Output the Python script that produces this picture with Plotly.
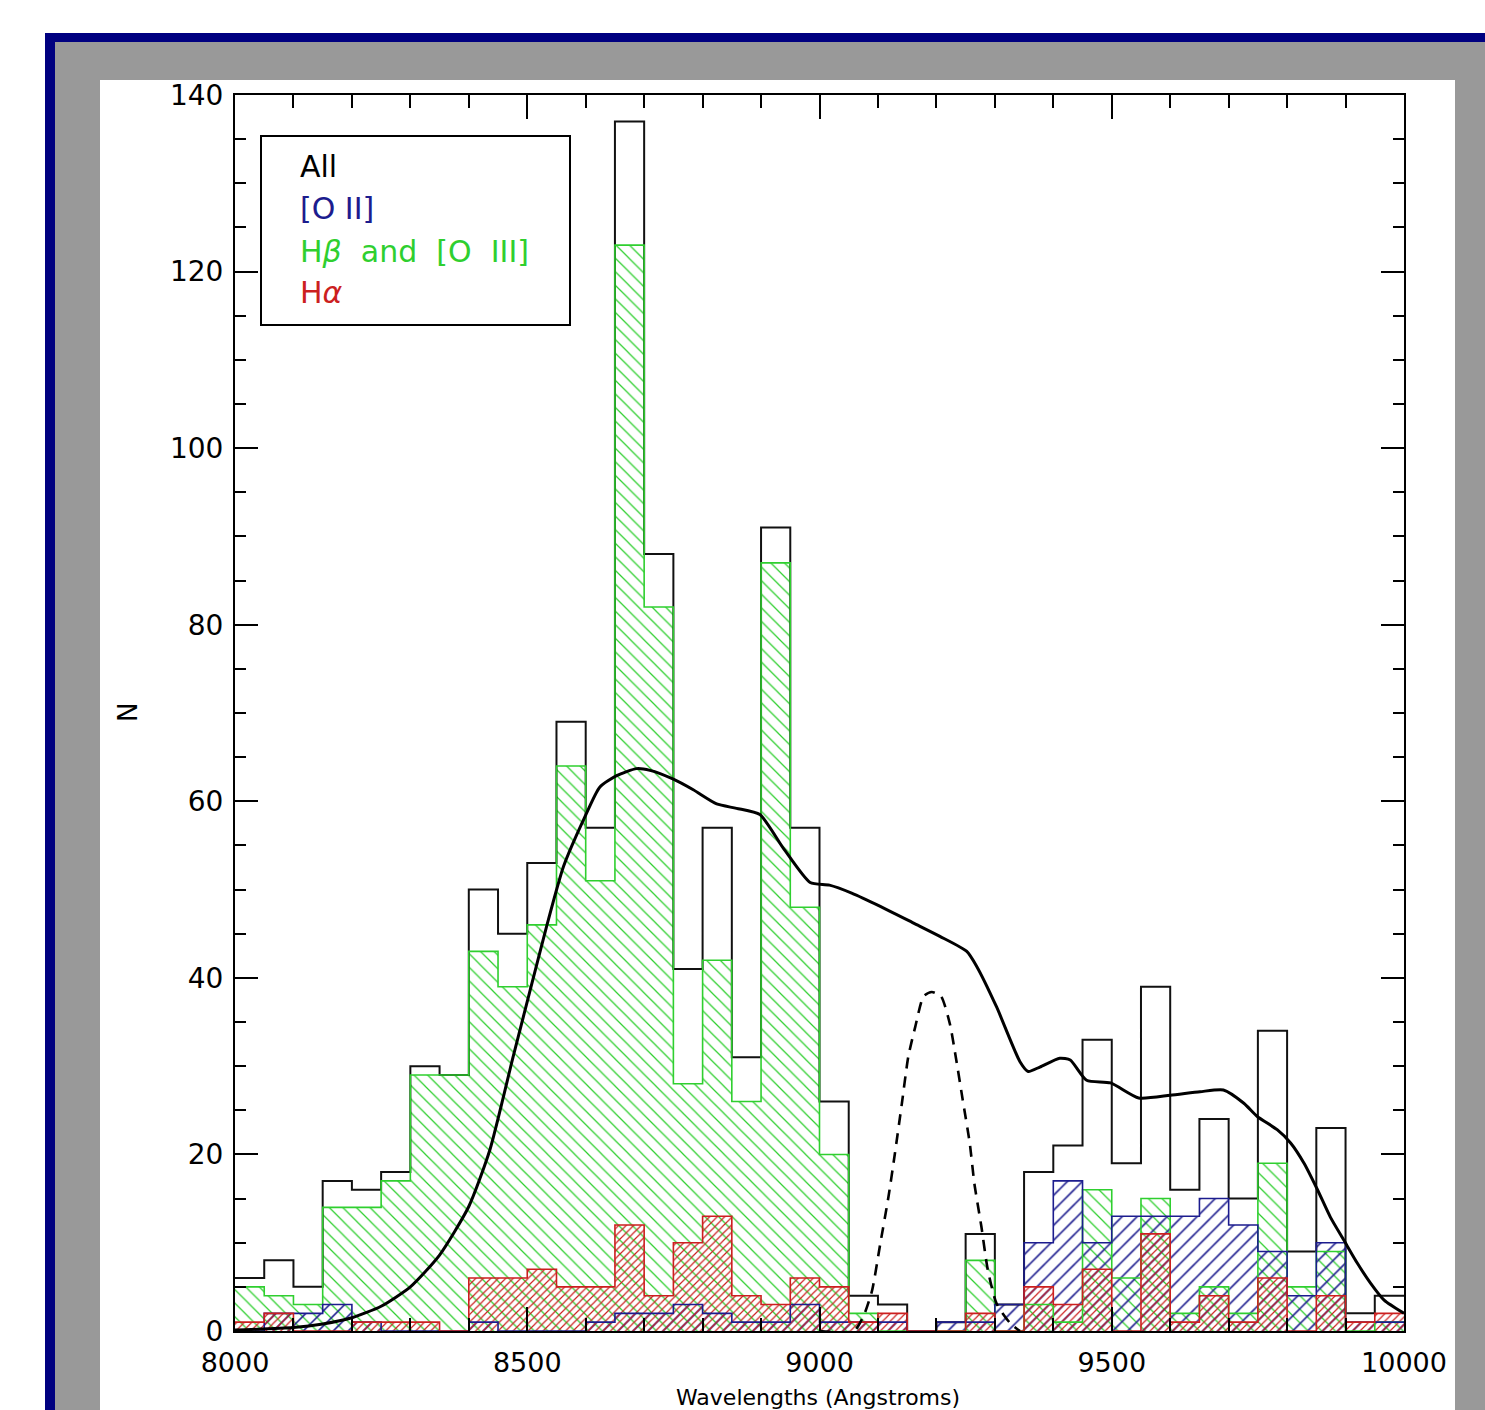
import numpy as np
import plotly.graph_objects as go

# ---- histogram data: 50 A bins from 8000 to 10000 A ----
bin_lo = 8000
bin_width = 50
n_all = [6, 8, 5, 17, 16, 18, 30, 29, 50, 45,
         53, 69, 57, 137, 88, 41, 57, 31, 91, 57,
         26, 4, 3, 0, 1, 11, 3, 18, 21, 33,
         19, 39, 16, 24, 15, 34, 9, 23, 2, 4]
n_hb_oiii = [5, 4, 3, 14, 14, 17, 29, 29, 43, 39,
             46, 64, 51, 123, 82, 28, 42, 26, 87, 48,
             20, 2, 0, 0, 0, 8, 0, 3, 1, 16,
             6, 15, 2, 5, 2, 19, 5, 9, 0, 1]
n_oii = [0, 2, 2, 3, 1, 0, 0, 0, 1, 0,
         0, 0, 1, 2, 2, 3, 2, 1, 1, 3,
         1, 1, 1, 0, 1, 1, 3, 10, 17, 10,
         13, 13, 13, 15, 12, 9, 4, 10, 1, 1]
n_ha = [1, 2, 0, 0, 1, 1, 1, 0, 6, 6,
        7, 5, 5, 12, 4, 10, 13, 4, 3, 6,
        5, 1, 2, 0, 0, 2, 0, 5, 3, 7,
        0, 11, 1, 4, 1, 6, 0, 4, 1, 2]

# ---- smooth curve (solid) ----
curve_wl = [8000, 8100, 8150, 8200, 8250, 8300, 8350, 8400, 8436, 8476,
            8505, 8533, 8562, 8597, 8624, 8653, 8687, 8710, 8750, 8784,
            8824, 8858, 8898, 8938, 8984, 9017, 9055, 9104, 9161, 9206,
            9252, 9269, 9303, 9343, 9357, 9377, 9411, 9429, 9457, 9498,
            9546, 9600, 9651, 9691, 9726, 9749, 9783, 9806, 9829, 9852,
            9874, 9897, 9920, 9943, 9966, 10000]
curve_n = [0.1, 0.4, 0.8, 1.5, 2.8, 5.0, 8.6, 14.1, 20.5, 31.1,
           38.6, 45.8, 52.6, 58.0, 61.6, 62.9, 63.7, 63.5, 62.5, 61.3,
           59.7, 59.2, 58.5, 54.7, 50.8, 50.5, 49.6, 48.1, 46.2, 44.7,
           43.0, 41.3, 36.7, 30.5, 29.4, 29.9, 30.9, 30.7, 28.4, 28.1,
           26.4, 26.7, 27.1, 27.3, 25.8, 24.3, 22.8, 21.3, 19.0, 16.0,
           12.9, 10.3, 7.7, 5.4, 3.5, 2.0]

# ---- filter profile (dashed) ----
filt_wl = [9000, 9059, 9076, 9090, 9104, 9118, 9129, 9141, 9152, 9164,
           9178, 9192, 9208, 9223, 9234, 9245, 9257, 9265, 9277, 9288,
           9303, 9326, 9343]
filt_n = [0, 0, 1.8, 4.6, 9.9, 15.2, 20.1, 25.8, 31.1, 34.5,
          37.9, 38.4, 37.9, 34.8, 30.7, 26.2, 21.3, 16.7, 11.8, 6.9,
          3.1, 0.9, 0]

legend_labels = ["All", "[O II]", "H<i>β</i>  and  [O  III]", "H<i>α</i>"]

x_ticks = [8000, 8500, 9000, 9500, 10000]
y_ticks = [0, 20, 40, 60, 80, 100, 120, 140]

BLACK = "#111111"
NAVY = "#1c1c8e"
GREEN = "#2fcf2f"
RED = "#cc1f1f"

nbins = len(n_all)
edges = bin_lo + bin_width * np.arange(nbins + 1)
centers = edges[:-1] + bin_width / 2

# figure geometry (pixels)
FW, FH = 1485, 1410
L, R, T, B = 235, 1404, 95, 1331
W, H = R - L, B - T


def px(xp):
    return (xp - L) / W


def py(yp):
    return (B - yp) / H


fig = go.Figure()


def hatch_bars(vals, color, shape, size, solidity):
    fig.add_trace(go.Bar(
        x=centers, y=vals, width=bin_width,
        marker=dict(color="rgba(0,0,0,0)",
                    line=dict(width=0),
                    pattern=dict(shape=shape, size=size, solidity=solidity,
                                 fgcolor=color, bgcolor="rgba(0,0,0,0)",
                                 fillmode="replace")),
        showlegend=False, hoverinfo="skip"))


def step_outline(vals, color, width):
    fig.add_trace(go.Scatter(
        x=edges, y=list(vals) + [vals[-1]], mode="lines",
        line=dict(color=color, width=width, shape="hv"),
        showlegend=False, hoverinfo="skip"))


# hatched fills
hatch_bars(n_hb_oiii, GREEN, "\\", 9.6, 0.13)
hatch_bars(n_oii, NAVY, "/", 10.6, 0.15)
hatch_bars(n_ha, RED, "/", 5.3, 0.22)

# histogram outlines
step_outline(n_all, BLACK, 2)
step_outline(n_hb_oiii, GREEN, 1.6)
step_outline(n_oii, NAVY, 1.6)
step_outline(n_ha, RED, 1.6)

# curves
fig.add_trace(go.Scatter(x=curve_wl, y=curve_n, mode="lines",
                         line=dict(color="black", width=3, shape="spline",
                                   smoothing=0.6),
                         showlegend=False, hoverinfo="skip"))
fig.add_trace(go.Scatter(x=filt_wl, y=filt_n, mode="lines",
                         line=dict(color="black", width=2.6, dash="11px,8px",
                                   shape="spline", smoothing=0.6),
                         showlegend=False, hoverinfo="skip"))

# window-style frame behind the plot
shapes = [
    dict(type="rect", xref="paper", yref="paper", layer="below",
         x0=px(45), x1=px(FW + 5), y0=py(FH + 5), y1=py(33),
         fillcolor="#000080", line=dict(width=0)),
    dict(type="rect", xref="paper", yref="paper", layer="below",
         x0=px(55), x1=px(FW + 5), y0=py(FH + 5), y1=py(42),
         fillcolor="#999999", line=dict(width=0)),
    dict(type="rect", xref="paper", yref="paper", layer="below",
         x0=px(100), x1=px(1455), y0=py(FH + 5), y1=py(80),
         fillcolor="white", line=dict(width=0)),
    # legend box
    dict(type="rect", xref="paper", yref="paper", layer="above",
         x0=px(261), x1=px(570), y0=py(325), y1=py(136),
         fillcolor="rgba(0,0,0,0)", line=dict(color="black", width=2)),
]

annotations = []
legend_colors = ["black", NAVY, GREEN, RED]
legend_rows = [167, 209, 251, 292]
for lab, col, yr in zip(legend_labels, legend_colors, legend_rows):
    annotations.append(dict(
        text=lab, xref="paper", yref="paper", x=px(298), y=py(yr),
        xanchor="left", yanchor="middle", showarrow=False,
        font=dict(family="DejaVu Sans", size=30, color=col)))

annotations.append(dict(
    text="Wavelengths (Angstroms)", xref="paper", yref="paper",
    x=px(818), y=py(1411), xanchor="center", yanchor="bottom",
    showarrow=False, borderpad=0,
    font=dict(family="DejaVu Sans", size=22, color="black")))
annotations.append(dict(
    text="N", xref="paper", yref="paper", x=px(128), y=py(713),
    xanchor="center", yanchor="middle", showarrow=False, textangle=-90,
    font=dict(family="DejaVu Sans", size=26, color="black")))

axis_common = dict(
    showgrid=False, zeroline=False, showline=True, linecolor="black",
    linewidth=2, mirror="ticks", ticks="inside", tickcolor="black",
    tickwidth=1.6,
)

fig.update_layout(
    width=FW, height=FH,
    margin=dict(l=L, r=FW - R, t=T, b=FH - B, pad=0),
    paper_bgcolor="white", plot_bgcolor="white",
    barmode="overlay", bargap=0,
    shapes=shapes, annotations=annotations,
    xaxis=dict(range=[8000, 10000], tickmode="array", tickvals=x_ticks,
               ticktext=[str(v) for v in x_ticks], ticklen=24,
               ticklabelstandoff=7,
               tickfont=dict(family="DejaVu Sans", size=27, color="black"),
               minor=dict(dtick=100, tick0=8000, ticklen=13, tickwidth=1.6,
                          tickcolor="black", ticks="inside", showgrid=False),
               **axis_common),
    yaxis=dict(range=[0, 140], tickmode="array", tickvals=y_ticks,
               ticktext=[str(v) for v in y_ticks], ticklen=23,
               ticklabelstandoff=4,
               tickfont=dict(family="DejaVu Sans", size=28, color="black"),
               minor=dict(dtick=5, tick0=0, ticklen=11, tickwidth=1.6,
                          tickcolor="black", ticks="inside", showgrid=False),
               **axis_common),
)

fig.write_html("out.html")
